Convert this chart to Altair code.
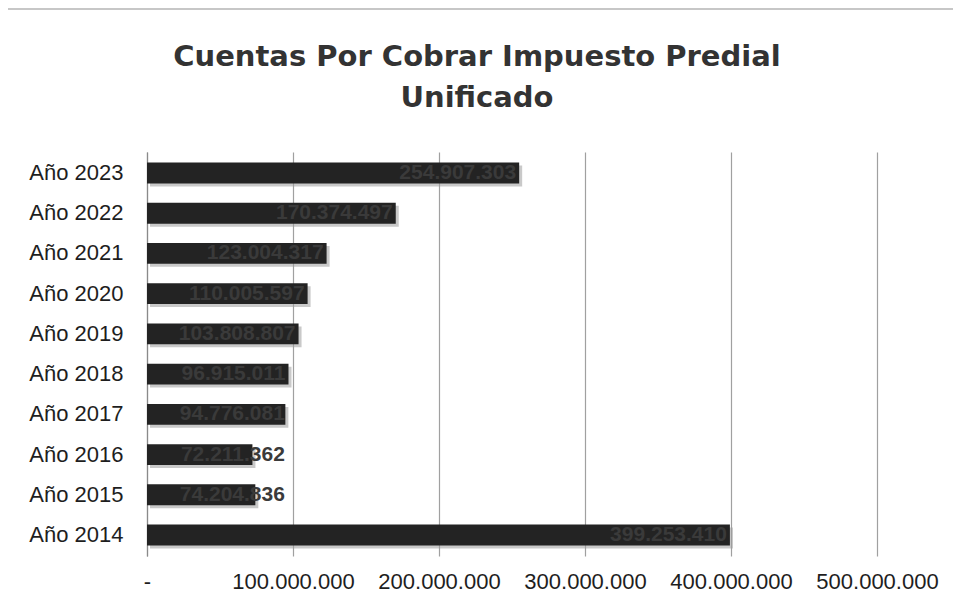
import altair as alt
import pandas as pd

years = ["Año 2023", "Año 2022", "Año 2021", "Año 2020", "Año 2019",
         "Año 2018", "Año 2017", "Año 2016", "Año 2015", "Año 2014"]
values = [254907303, 170374497, 123004317, 110005597, 103808807,
          96915011, 94776081, 72211362, 74204836, 399253410]
x_ticks = [0, 100000000, 200000000, 300000000, 400000000, 500000000]

df = pd.DataFrame({"year": years, "value": values})

W, H = 730, 404
FONT = "Liberation Sans"

y_enc = alt.Y("year:N", sort=years, title=None,
              scale=alt.Scale(paddingInner=0.48, paddingOuter=0.26),
              axis=alt.Axis(labelFontSize=22, labelFont=FONT, labelColor="#1e1e1e",
                            labelPadding=24, ticks=False, domain=True,
                            domainColor="#8a8a8a", domainWidth=1.2, grid=False))
x_scale = alt.Scale(domain=[0, 500000000], nice=False)
x_axis = alt.Axis(values=x_ticks, grid=True, gridColor="#a0a0a0",
                  gridWidth=1.2, domain=False, ticks=False,
                  labelFontSize=22, labelFont=FONT, labelColor="#1e1e1e",
                  labelPadding=15, labelOverlap=False, labelBound=False,
                  labelFlush=False,
                  labelExpr="datum.value == 0 ? '-' : replace(format(datum.value, ','), regexp(',', 'g'), '.')")

base = alt.Chart(df)

shadow = base.mark_bar(color="#9c9c9c", opacity=0.55, xOffset=3, yOffset=3).encode(
    x=alt.X("value:Q", scale=x_scale, title=None, axis=x_axis),
    y=y_enc,
)

bars = base.mark_bar(color="#232323").encode(
    x=alt.X("value:Q", scale=x_scale, title=None, axis=x_axis),
    y=y_enc,
)

labels = base.transform_calculate(
    pos="max(datum.value, 96500000)",
    txt="replace(format(datum.value, ','), regexp(',', 'g'), '.')",
).mark_text(align="right", baseline="middle", dx=-3, fontSize=21,
            fontWeight="bold", font=FONT, color="#3a3a3a").encode(
    x=alt.X("pos:Q", scale=x_scale, title=None, axis=x_axis),
    y=alt.Y("year:N", sort=years),
    text="txt:N",
)

frame = alt.Chart(alt.Data(values=[{}])).mark_rect(
    fill=None, stroke="#b5b5b5", strokeWidth=1.5, clip=False).encode(
    x=alt.value(-140), x2=alt.value(W + 300),
    y=alt.value(-143), y2=alt.value(H + 300),
)

chart = alt.layer(frame, shadow, bars, labels).properties(
    width=W, height=H,
    autosize=alt.AutoSizeParams(type="none"),
    padding={"left": 139, "top": 144, "right": 76, "bottom": 42},
    title=alt.TitleParams(
        text=["Cuentas Por Cobrar Impuesto Predial", "Unificado"],
        fontSize=29, font="DejaVu Sans", fontWeight="bold", color="#333333",
        anchor="middle", frame="group", dx=-35, offset=-105, lineHeight=41,
    ),
).configure_view(stroke=None)

chart.save("out.html", embed_options={"renderer": "svg", "actions": False})
